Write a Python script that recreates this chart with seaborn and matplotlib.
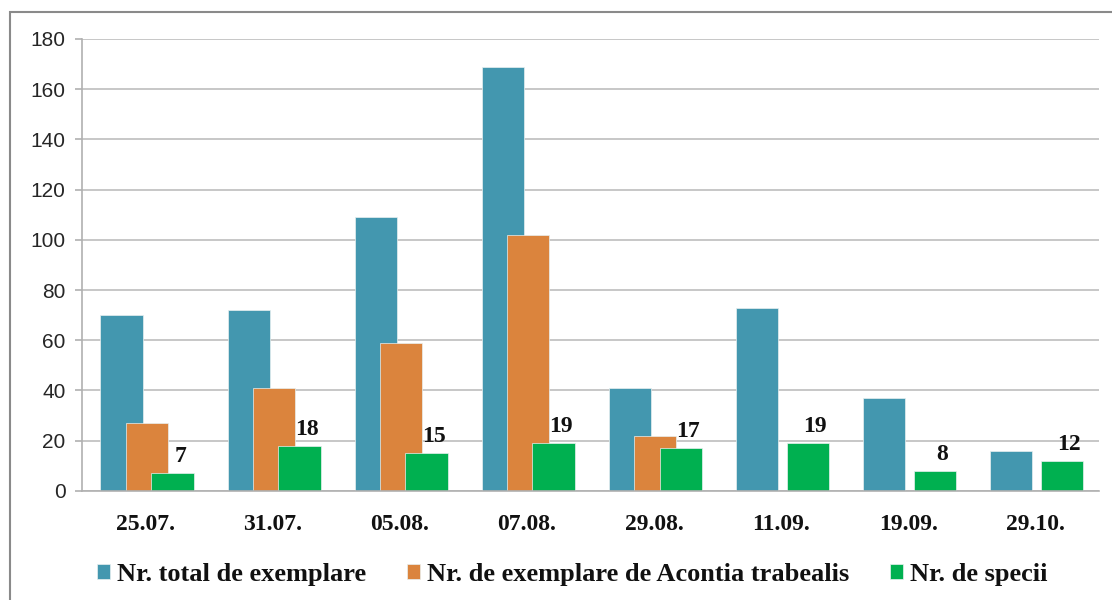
import pandas as pd
import numpy as np
import matplotlib.pyplot as plt
import seaborn as sns
from matplotlib.patches import Rectangle

# Datele
date = ['25.07.', '31.07.', '05.08.', '07.08.', '29.08.', '11.09.', '19.09.', '29.10.']
total_exemplare = [70, 72, 109, 169, 41, 73, 37, 16]
acontia = [27, 41, 59, 102, 22, 0, 0, 0]
nr_specii = [7, 18, 15, 19, 17, 19, 8, 12]

serii = ['Nr. total de exemplare', 'Nr. de exemplare de Acontia trabealis', 'Nr. de specii']
culori = ['#4397AF', '#DB843D', '#00B050']

df = pd.DataFrame({
    'data': date * 3,
    'valoare': total_exemplare + acontia + nr_specii,
    'serie': [serii[0]] * 8 + [serii[1]] * 8 + [serii[2]] * 8,
})

sns.set_style('white')
fig = plt.figure(figsize=(11.12, 6), dpi=100)
ax = fig.add_axes([0.074, 0.182, 0.914, 0.753])

sns.barplot(data=df, x='data', y='valoare', hue='serie', palette=culori,
            saturation=1, width=1.0, dodge=True, edgecolor='#e8f0f0',
            linewidth=0.5, ax=ax)

# barele se suprapun (stil Excel): mutam centrele
for i, cont in enumerate(ax.containers):
    for bar in cont:
        w = bar.get_width()
        grup = round(bar.get_x() + w / 2)
        bar.set_x(grup + (i - 1) * 0.2 - w / 2 + 0.01)

# etichete pentru numarul de specii
for k, v in enumerate(nr_specii):
    ax.text(k + 0.27, v + 2.3, str(v), ha='center', va='bottom',
            fontsize=17, fontweight='bold', family='Liberation Serif',
            color='#111111')

ax.set_xlim(-0.5, len(date) - 0.5)
ax.set_ylim(0, 180)
ax.set_yticks(range(0, 181, 20))
ax.yaxis.grid(True, color='#c3c3c3', linewidth=1.3)
ax.set_axisbelow(True)
ax.set_xlabel('')
ax.set_ylabel('')

for s in ['top', 'right']:
    ax.spines[s].set_visible(False)
for s in ['left', 'bottom']:
    ax.spines[s].set_color('#b0b0b0')
    ax.spines[s].set_linewidth(1.2)

ax.tick_params(axis='y', left=True, length=5, color='#b0b0b0', width=1.2,
               labelsize=15, labelcolor='#262626', pad=7)
ax.tick_params(axis='x', bottom=False, pad=13)
for lab in ax.get_yticklabels():
    lab.set_family('Liberation Sans')
for lab in ax.get_xticklabels():
    lab.set_family('Liberation Serif')
    lab.set_fontweight('bold')
    lab.set_fontsize(17)
    lab.set_color('#111111')

leg = ax.legend(loc='upper center', bbox_to_anchor=(0.482, -0.108), ncol=3,
                frameon=False, handlelength=0.5, handleheight=0.5,
                handletextpad=0.25, columnspacing=1.55,
                prop={'family': 'Liberation Serif', 'weight': 'bold', 'size': 19})
for t in leg.get_texts():
    t.set_color('#111111')

# chenarul exterior al figurii
fig.add_artist(Rectangle((10 / 1112, -0.1), 1.2, 1.1 - 12 / 600,
                         transform=fig.transFigure, fill=False,
                         edgecolor='#8a8a8a', linewidth=1.5))

fig.savefig('out.png', dpi=100)
